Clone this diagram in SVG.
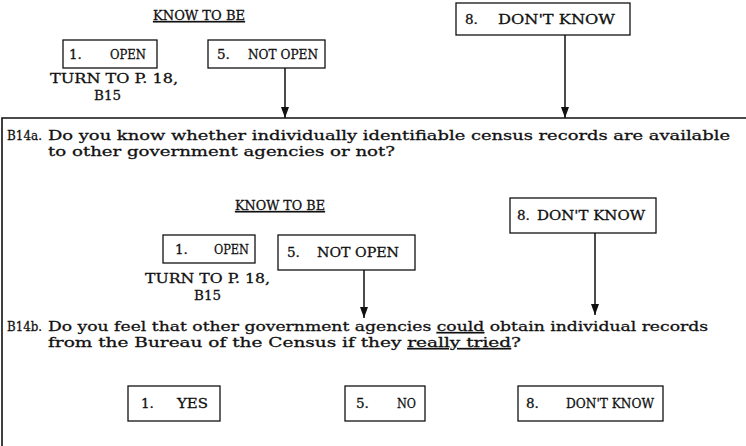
<svg xmlns="http://www.w3.org/2000/svg" width="746" height="446" viewBox="0 0 746 446">
<defs>
<style>
text { font-family: "DejaVu Serif", "Liberation Serif", serif; font-size: 13.5px; fill: #111; stroke: #111; stroke-width: 0.3; }
.box { fill: none; stroke: #111; stroke-width: 1.3; }
.conn { stroke: #111; stroke-width: 1.5; fill: none; }
.frame { stroke: #111; stroke-width: 1.6; fill: none; }
.u { text-decoration: underline; }
</style>
<marker id="ah" viewBox="0 0 11 8" refX="11" refY="4" markerUnits="userSpaceOnUse" markerWidth="11" markerHeight="8" orient="auto">
<path d="M0,0 L11,4 L0,8 Z" fill="#111"/>
</marker>
</defs>
<rect width="746" height="446" fill="#fff"/>
<path class="frame" d="M2,446 V118 H746"/>
<g id="connectors">
<line class="conn" x1="285" y1="68" x2="285" y2="118" marker-end="url(#ah)"/>
<line class="conn" x1="565" y1="35" x2="565" y2="118" marker-end="url(#ah)"/>
<line class="conn" x1="364" y1="270" x2="364" y2="318" marker-end="url(#ah)"/>
<line class="conn" x1="595" y1="233" x2="595" y2="315" marker-end="url(#ah)"/>
</g>
<g id="top-know"><text class="u" x="153" y="20" textLength="92" lengthAdjust="spacingAndGlyphs">KNOW TO BE</text></g>
<g id="top-open">
<rect class="box" x="63" y="40" width="94" height="28"/>
<text x="69" y="59">1.</text>
<text x="110" y="59" textLength="36" lengthAdjust="spacingAndGlyphs">OPEN</text>
</g>
<g id="top-turn">
<text x="50" y="83" textLength="128" lengthAdjust="spacingAndGlyphs">TURN TO P. 18,</text>
<text x="94" y="100" textLength="27" lengthAdjust="spacingAndGlyphs">B15</text>
</g>
<g id="top-notopen">
<rect class="box" x="208" y="40" width="117" height="28"/>
<text x="217" y="59">5.</text>
<text x="248" y="59" textLength="70" lengthAdjust="spacingAndGlyphs">NOT OPEN</text>
</g>
<g id="top-dontknow">
<rect class="box" x="456" y="3" width="174" height="32"/>
<text x="465" y="24">8.</text>
<text x="498" y="24" textLength="117" lengthAdjust="spacingAndGlyphs">DON'T KNOW</text>
</g>
<g id="b14a">
<text x="7" y="140" textLength="35" lengthAdjust="spacingAndGlyphs">B14a.</text>
<text x="48" y="140" textLength="682" lengthAdjust="spacingAndGlyphs">Do you know whether individually identifiable census records are available</text>
<text x="48" y="156" textLength="347" lengthAdjust="spacingAndGlyphs">to other government agencies or not?</text>
</g>
<g id="mid-know"><text class="u" x="235" y="210" textLength="90" lengthAdjust="spacingAndGlyphs">KNOW TO BE</text></g>
<g id="mid-open">
<rect class="box" x="163" y="235" width="92" height="28"/>
<text x="175" y="254">1.</text>
<text x="214" y="254" textLength="35" lengthAdjust="spacingAndGlyphs">OPEN</text>
</g>
<g id="mid-turn">
<text x="145" y="283" textLength="125" lengthAdjust="spacingAndGlyphs">TURN TO P. 18,</text>
<text x="194" y="300" textLength="27" lengthAdjust="spacingAndGlyphs">B15</text>
</g>
<g id="mid-notopen">
<rect class="box" x="278" y="235" width="137" height="35"/>
<text x="287" y="257">5.</text>
<text x="317" y="257" textLength="82" lengthAdjust="spacingAndGlyphs">NOT OPEN</text>
</g>
<g id="mid-dontknow">
<rect class="box" x="510" y="198" width="146" height="35"/>
<text x="517" y="220">8.</text>
<text x="537" y="220" textLength="108" lengthAdjust="spacingAndGlyphs">DON'T KNOW</text>
</g>
<g id="b14b">
<text x="7" y="331" textLength="35" lengthAdjust="spacingAndGlyphs">B14b.</text>
<text x="48" y="331" textLength="660" lengthAdjust="spacingAndGlyphs">Do you feel that other government agencies <tspan class="u">could</tspan> obtain individual records</text>
<text x="48" y="347" textLength="473" lengthAdjust="spacingAndGlyphs">from the Bureau of the Census if they <tspan class="u">really tried</tspan>?</text>
</g>
<g id="ans-yes">
<rect class="box" x="128" y="386" width="92" height="35"/>
<text x="141" y="408">1.</text>
<text x="177" y="408" textLength="31" lengthAdjust="spacingAndGlyphs">YES</text>
</g>
<g id="ans-no">
<rect class="box" x="345" y="386" width="80" height="35"/>
<text x="356" y="408">5.</text>
<text x="397" y="408" textLength="19" lengthAdjust="spacingAndGlyphs">NO</text>
</g>
<g id="ans-dontknow">
<rect class="box" x="518" y="386" width="145" height="35"/>
<text x="526" y="408">8.</text>
<text x="566" y="408" textLength="88" lengthAdjust="spacingAndGlyphs">DON'T KNOW</text>
</g>
</svg>
